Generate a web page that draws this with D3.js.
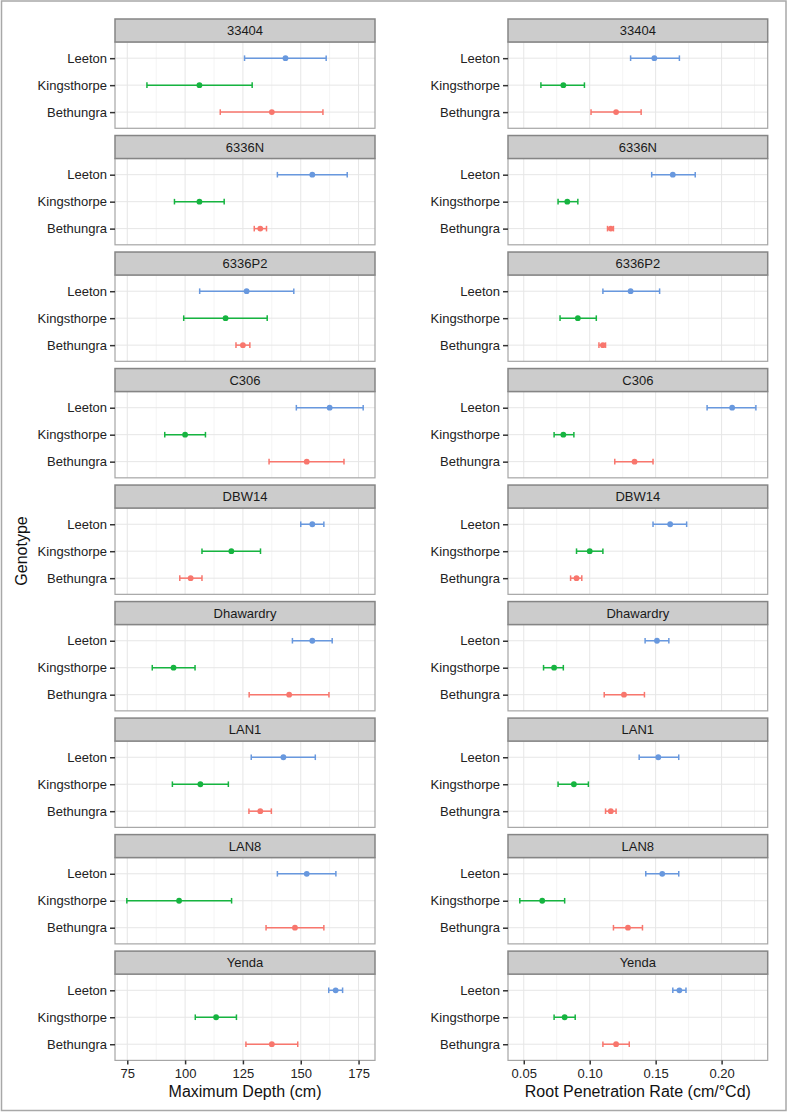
<!DOCTYPE html>
<html>
<head>
<meta charset="utf-8">
<script src="https://cdn.jsdelivr.net/npm/d3@7"></script>
<style>
  html, body { margin: 0; padding: 0; background: #fff; }
  svg { display: block; font-family: "Liberation Sans", Arial, Helvetica, sans-serif; }
</style>
</head>
<body>
<svg id="chart" width="788" height="1112"></svg>
<script>
// ---------------- data ----------------
const genotypes = ["Leeton", "Kingsthorpe", "Bethungra"];
const facets = ["33404", "6336N", "6336P2", "C306", "DBW14", "Dhawardry", "LAN1", "LAN8", "Yenda"];
const genotypeColors = ["#6898DE", "#16B440", "#F8766D"];

// rows = facets, columns = [Leeton, Kingsthorpe, Bethungra]
const depthMean = [
  [143.4, 106.2, 137.5], [155.0, 106.2, 132.5], [126.6, 117.5, 125.0],
  [162.5, 100.0, 152.6], [155.0, 120.0, 102.4], [155.0, 95.0, 145.0],
  [142.5, 106.6, 132.5], [152.6, 97.4, 147.5], [165.1, 113.4, 137.5]
];
const depthLow = [
  [125.7, 83.5, 115.2], [139.9, 95.4, 129.9], [106.3, 99.4, 122.0],
  [148.1, 91.2, 136.3], [150.0, 107.3, 97.7], [146.4, 85.8, 127.7],
  [128.6, 94.5, 127.6], [139.9, 74.8, 135.0], [162.1, 104.4, 126.3]
];
const depthHigh = [
  [161.0, 129.0, 159.6], [170.1, 116.9, 135.2], [147.0, 135.5, 128.0],
  [177.0, 108.8, 168.7], [160.0, 132.6, 107.3], [163.6, 104.3, 162.2],
  [156.3, 118.7, 137.3], [165.2, 120.1, 160.0], [168.1, 122.2, 148.7]
];
const rateMean = [
  [0.149, 0.080, 0.120], [0.163, 0.083, 0.116], [0.131, 0.091, 0.110],
  [0.208, 0.080, 0.134], [0.161, 0.100, 0.090], [0.151, 0.073, 0.126],
  [0.152, 0.088, 0.116], [0.155, 0.064, 0.129], [0.168, 0.081, 0.120]
];
const rateLow = [
  [0.131, 0.063, 0.101], [0.147, 0.076, 0.1135], [0.110, 0.0775, 0.107],
  [0.189, 0.073, 0.119], [0.148, 0.090, 0.0855], [0.142, 0.065, 0.111],
  [0.1375, 0.076, 0.112], [0.1425, 0.047, 0.118], [0.163, 0.073, 0.110]
];
const rateHigh = [
  [0.168, 0.096, 0.139], [0.180, 0.091, 0.118], [0.153, 0.105, 0.112],
  [0.226, 0.088, 0.148], [0.1735, 0.110, 0.094], [0.160, 0.080, 0.1415],
  [0.1675, 0.099, 0.120], [0.1675, 0.081, 0.140], [0.173, 0.089, 0.130]
];
const depthTicks = [75, 100, 125, 150, 175];
const depthMinor = [87.5, 112.5, 137.5, 162.5];
const rateTicks = [0.05, 0.10, 0.15, 0.20];
const rateMinor = [0.075, 0.125, 0.175, 0.225];

// ---------------- drawing ----------------
const svg = d3.select("#chart");

// outer frame
svg.append("rect")
  .attr("x", 1.5).attr("y", 1).attr("width", 784.5).attr("height", 1109.5)
  .attr("fill", "none").attr("stroke", "#a8a8a8").attr("stroke-width", 1.5);

const facetBand = d3.scaleBand().domain(facets).range([19, 1060.4]).paddingInner(0.062);
const stripH = 23;

function expandDomain(lo, hi) {
  const mn = d3.min(lo.flat()), mx = d3.max(hi.flat());
  const e = (mx - mn) * 0.05;
  return [mn - e, mx + e];
}

function drawColumn(opts) {
  const { x0, x1, mean, low, high, ticks, minor, fmt, title } = opts;
  const x = d3.scaleLinear().domain(expandDomain(low, high)).range([x0, x1]);
  const g = svg.append("g");

  facets.forEach((f, fi) => {
    const top = facetBand(f);
    const pTop = top + stripH;
    const pBot = top + facetBand.bandwidth();
    const y = d3.scalePoint().domain(genotypes).range([pTop, pBot]).padding(0.6);
    const fg = g.append("g");

    fg.append("rect").attr("x", x0).attr("y", pTop).attr("width", x1 - x0).attr("height", pBot - pTop)
      .attr("fill", "#fff");

    fg.selectAll(".mg").data(minor.filter(v => x(v) > x0 && x(v) < x1)).join("line")
      .attr("x1", d => x(d)).attr("x2", d => x(d)).attr("y1", pTop).attr("y2", pBot)
      .attr("stroke", "#f4f4f4").attr("stroke-width", 1);
    fg.selectAll(".Mg").data(ticks).join("line")
      .attr("x1", d => x(d)).attr("x2", d => x(d)).attr("y1", pTop).attr("y2", pBot)
      .attr("stroke", "#e6e6e6").attr("stroke-width", 1);
    fg.selectAll(".Hg").data(genotypes).join("line")
      .attr("x1", x0).attr("x2", x1).attr("y1", d => y(d)).attr("y2", d => y(d))
      .attr("stroke", "#e6e6e6").attr("stroke-width", 1);

    const rows = genotypes.map((gn, gi) => ({
      g: gn, c: genotypeColors[gi], m: mean[fi][gi], lo: low[fi][gi], hi: high[fi][gi]
    }));
    const cap = 2.8;
    rows.forEach(r => {
      const yy = y(r.g);
      const eb = fg.append("g").attr("stroke", r.c).attr("stroke-width", 1.5).attr("fill", "none");
      eb.append("line").attr("x1", x(r.lo)).attr("x2", x(r.hi)).attr("y1", yy).attr("y2", yy);
      eb.append("line").attr("x1", x(r.lo)).attr("x2", x(r.lo)).attr("y1", yy - cap).attr("y2", yy + cap);
      eb.append("line").attr("x1", x(r.hi)).attr("x2", x(r.hi)).attr("y1", yy - cap).attr("y2", yy + cap);
      fg.append("circle").attr("cx", x(r.m)).attr("cy", yy).attr("r", 2.9).attr("fill", r.c);
    });

    fg.append("rect").attr("x", x0).attr("y", pTop).attr("width", x1 - x0).attr("height", pBot - pTop)
      .attr("fill", "none").attr("stroke", "#a6a6a6").attr("stroke-width", 1.2);

    fg.append("rect").attr("x", x0).attr("y", top).attr("width", x1 - x0).attr("height", stripH)
      .attr("fill", "#cccccc").attr("stroke", "#858585").attr("stroke-width", 1.5);
    fg.append("text").attr("x", (x0 + x1) / 2).attr("y", top + stripH / 2).attr("dy", "0.35em")
      .attr("text-anchor", "middle").attr("font-size", 13).attr("fill", "#1a1a1a").text(f);

    const ya = fg.append("g").attr("transform", `translate(${x0},0)`)
      .call(d3.axisLeft(y).tickSize(5).tickPadding(3));
    ya.select(".domain").remove();
    ya.selectAll(".tick line").attr("stroke", "#333").attr("stroke-width", 1.5);
    ya.selectAll(".tick text").attr("font-size", 13).attr("fill", "#222")
      .attr("font-family", "'Liberation Sans', Arial, sans-serif");

    if (fi === facets.length - 1) {
      const xa = fg.append("g").attr("transform", `translate(0,${pBot})`)
        .call(d3.axisBottom(x).tickValues(ticks).tickFormat(fmt).tickSize(4).tickPadding(4));
      xa.select(".domain").remove();
      xa.selectAll(".tick line").attr("stroke", "#333").attr("stroke-width", 1.5);
      xa.selectAll(".tick text").attr("font-size", 13).attr("fill", "#222")
        .attr("font-family", "'Liberation Sans', Arial, sans-serif");
      g.append("text").attr("x", (x0 + x1) / 2).attr("y", pBot + 37)
        .attr("text-anchor", "middle").attr("font-size", 16).attr("fill", "#111").text(title);
    }
  });
}

drawColumn({ x0: 115, x1: 375, mean: depthMean, low: depthLow, high: depthHigh,
  ticks: depthTicks, minor: depthMinor, fmt: d3.format("d"), title: "Maximum Depth (cm)" });
drawColumn({ x0: 508, x1: 767.7, mean: rateMean, low: rateLow, high: rateHigh,
  ticks: rateTicks, minor: rateMinor, fmt: d3.format(".2f"), title: "Root Penetration Rate (cm/\u00B0Cd)" });

svg.append("text").attr("transform", "translate(21.5,551) rotate(-90)").attr("dy", "0.35em")
  .attr("text-anchor", "middle").attr("font-size", 16).attr("fill", "#111").text("Genotype");
</script>
</body>
</html>
